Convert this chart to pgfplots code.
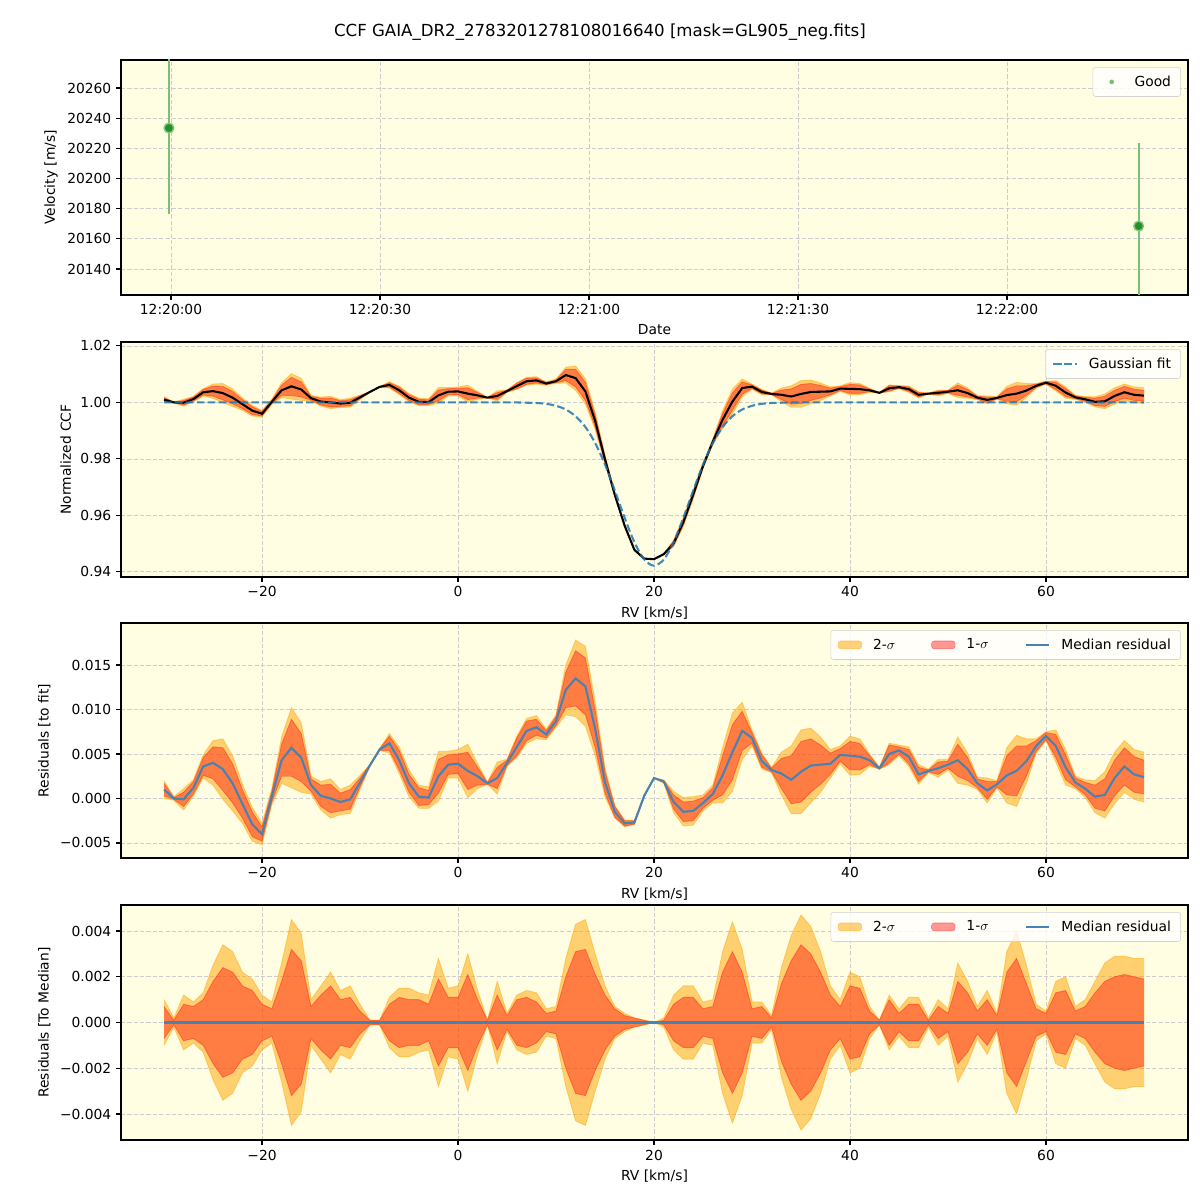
\documentclass[border=0pt]{standalone}
\usepackage{fontspec}
\setmainfont{DejaVu Sans}
\usepackage{pgfplots}
\usepackage{pgfplotstable}
\pgfplotsset{compat=1.18}
\usepgfplotslibrary{fillbetween}

\definecolor{bgcol}{RGB}{255,253,226}
\definecolor{gridcol}{RGB}{205,205,205}
\definecolor{band2}{RGB}{255,165,0}
\definecolor{band1}{RGB}{255,0,0}
\definecolor{medcol}{RGB}{70,130,180}
\definecolor{fitcol}{RGB}{31,119,180}
\definecolor{goodcol}{RGB}{44,160,44}

% rv [km/s], median residual, 1-sigma and 2-sigma half widths, Gaussian fit
\pgfplotstableread{
rv med s1 s2 fit
-30 0.0010 0.0007 0.0010 1.0000
-29 0.0000 0.0001 0.0002 1.0000
-28 -0.0001 0.0008 0.0012 1.0000
-27 0.0012 0.0007 0.0009 1.0000
-26 0.0036 0.0010 0.0013 1.0000
-25 0.0040 0.0018 0.0025 1.0000
-24 0.0033 0.0024 0.0034 1.0000
-23 0.0017 0.0022 0.0031 1.0000
-22 -0.0006 0.0016 0.0022 1.0000
-21 -0.0029 0.0014 0.0019 1.0000
-20 -0.0040 0.0008 0.0012 1.0000
-19 0.0002 0.0006 0.0009 1.0000
-18 0.0043 0.0018 0.0026 1.0000
-17 0.0057 0.0032 0.0045 1.0000
-16 0.0046 0.0027 0.0039 1.0000
-15 0.0015 0.0007 0.0010 1.0000
-14 0.0003 0.0012 0.0016 1.0000
-13 0.0000 0.0016 0.0022 1.0000
-12 -0.0004 0.0010 0.0014 1.0000
-11 -0.0001 0.0011 0.0016 1.0000
-10 0.0018 0.0005 0.0008 1.0000
-9 0.0037 0.0001 0.0001 1.0000
-8 0.0055 0.0001 0.0001 1.0000
-7 0.0062 0.0008 0.0011 1.0000
-6 0.0043 0.0011 0.0015 1.0000
-5 0.0017 0.0010 0.0015 1.0000
-4 0.0002 0.0010 0.0013 1.0000
-3 0.0001 0.0008 0.0012 1.0000
-2 0.0025 0.0019 0.0028 1.0000
-1 0.0038 0.0011 0.0015 1.0000
0 0.0039 0.0011 0.0016 1.0000
1 0.0031 0.0021 0.0030 1.0000
2 0.0025 0.0010 0.0014 1.0000
3 0.0017 0.0001 0.0001 1.0000
4 0.0023 0.0012 0.0018 1.0000
5 0.0040 0.0003 0.0004 1.0000
6 0.0058 0.0010 0.0012 1.0000
7 0.0076 0.0011 0.0014 0.9999
8 0.0080 0.0009 0.0013 0.9998
9 0.0072 0.0004 0.0006 0.9995
10 0.0087 0.0005 0.0007 0.9988
11 0.0122 0.0020 0.0028 0.9975
12 0.0135 0.0031 0.0043 0.9951
13 0.0126 0.0032 0.0045 0.9913
14 0.0078 0.0021 0.0030 0.9856
15 0.0018 0.0012 0.0016 0.9780
16 -0.0015 0.0006 0.0007 0.9688
17 -0.0028 0.0003 0.0004 0.9592
18 -0.0027 0.0002 0.0002 0.9505
19 0.0003 0.0001 0.0001 0.9444
20 0.0023 0.0000 0.0000 0.9422
21 0.0019 0.0001 0.0002 0.9444
22 -0.0004 0.0008 0.0012 0.9505
23 -0.0015 0.0011 0.0016 0.9592
24 -0.0014 0.0011 0.0016 0.9688
25 -0.0005 0.0006 0.0009 0.9780
26 0.0005 0.0007 0.0010 0.9856
27 0.0026 0.0022 0.0031 0.9913
28 0.0052 0.0031 0.0044 0.9951
29 0.0076 0.0022 0.0032 0.9975
30 0.0068 0.0006 0.0009 0.9988
31 0.0042 0.0007 0.0009 0.9995
32 0.0032 0.0002 0.0003 0.9998
33 0.0028 0.0017 0.0024 0.9999
34 0.0021 0.0027 0.0038 1.0000
35 0.0030 0.0034 0.0047 1.0000
36 0.0037 0.0030 0.0042 1.0000
37 0.0038 0.0022 0.0031 1.0000
38 0.0039 0.0012 0.0016 1.0000
39 0.0049 0.0007 0.0010 1.0000
40 0.0048 0.0016 0.0022 1.0000
41 0.0047 0.0015 0.0020 1.0000
42 0.0043 0.0005 0.0007 1.0000
43 0.0034 0.0001 0.0001 1.0000
44 0.0050 0.0010 0.0012 1.0000
45 0.0054 0.0004 0.0006 1.0000
46 0.0047 0.0008 0.0011 1.0000
47 0.0027 0.0008 0.0011 1.0000
48 0.0031 0.0001 0.0002 1.0000
49 0.0034 0.0007 0.0010 1.0000
50 0.0038 0.0004 0.0006 1.0000
51 0.0043 0.0018 0.0026 1.0000
52 0.0033 0.0013 0.0018 1.0000
53 0.0017 0.0005 0.0007 1.0000
54 0.0009 0.0010 0.0014 1.0000
55 0.0016 0.0003 0.0004 1.0000
56 0.0026 0.0022 0.0031 1.0000
57 0.0031 0.0028 0.0040 1.0000
58 0.0042 0.0017 0.0025 1.0000
59 0.0059 0.0006 0.0008 1.0000
60 0.0070 0.0004 0.0005 1.0000
61 0.0059 0.0013 0.0018 1.0000
62 0.0035 0.0014 0.0020 1.0000
63 0.0018 0.0005 0.0007 1.0000
64 0.0011 0.0007 0.0010 1.0000
65 0.0002 0.0013 0.0018 1.0000
66 0.0004 0.0018 0.0026 1.0000
67 0.0023 0.0020 0.0029 1.0000
68 0.0036 0.0021 0.0029 1.0000
69 0.0027 0.0020 0.0028 1.0000
70 0.0024 0.0019 0.0028 1.0000
}\ccf

\pgfplotsset{
  panel/.style={
    scale only axis, width=10.67in, height=2.35in, anchor=south west,
    axis background/.style={fill=bgcol},
    scaled x ticks=false, scaled y ticks=false,
    grid=major, grid style={dash pattern=on 3pt off 1.6pt, gridcol, line width=0.6pt},
    tick align=outside, major tick length=3.5pt,
    xtick pos=bottom, ytick pos=left,
    every tick/.style={black, line width=0.8pt},
    axis line style={line width=0.8pt},
    tick label style={font=\fontsize{10}{12}\selectfont},
    label style={font=\fontsize{10}{12}\selectfont},
    legend style={font=\fontsize{10}{12}\selectfont, draw=gray!35, rounded corners=2pt,
      fill=white, fill opacity=0.8, text opacity=1, at={(0.9934,0.97)}, anchor=north east,
      inner xsep=5pt, inner ysep=4pt,
      /tikz/every odd column/.append style={column sep=6pt},
      /tikz/every even column/.append style={column sep=24pt}},
    legend cell align=left,
  },
  rvpanel/.style={panel, xmin=-34.39, xmax=74.49, xtick={-20,0,20,40,60},
    xticklabels={−20,0,20,40,60}, xlabel={RV [km/s]}},
  sig2/.style={fill=band2, fill opacity=0.5, draw=none, forget plot},
  sig1/.style={fill=band1, fill opacity=0.4, draw=none, forget plot},
  edge2/.style={band2, draw opacity=0.45, line width=0.6pt, forget plot},
  edge1/.style={band1, draw opacity=0.35, line width=0.6pt, forget plot},
}

\begin{document}
\begin{tikzpicture}
\path (0,0) rectangle (12in,12in);
\node[font=\fontsize{12}{14}\selectfont] at (6in,11.68in)
  {CCF GAIA\_DR2\_2783201278108016640 [mask=GL905\_neg.fits]};

% panel 1: velocity vs time (seconds after 12:20:00)
\begin{axis}[panel, at={(1.21in,9.05in)},
  xmin=-7.18, xmax=145.98, ymin=20122.8, ymax=20278.6,
  xtick={0,30,60,90,120},
  xticklabels={12:20:00,12:20:30,12:21:00,12:21:30,12:22:00},
  ytick={20140,20160,20180,20200,20220,20240,20260},
  yticklabels={20140,20160,20180,20200,20220,20240,20260},
  xlabel={Date}, ylabel={Velocity [m/s]}]
\addlegendimage{legend image code/.code={
  \path[draw=none, fill=none] (0cm,0cm) -- (0.6cm,0cm);
  \path[draw=none, fill=goodcol, fill opacity=0.65] (0.3cm,0cm) circle (1.7pt);}}
\addlegendentry{Good}
\addplot[forget plot, only marks, mark=*, mark size=3.5pt,
  mark options={fill=goodcol!90!black, draw=goodcol!60, line width=1pt},
  error bars/.cd, y dir=both, y explicit, error mark=none,
  error bar style={goodcol!65, line width=1.5pt}]
  coordinates {(-0.3,20233.5) +- (0,57) (138.9,20168.5) +- (0,55)};
\end{axis}

% panel 2: normalized CCF
\begin{axis}[rvpanel, at={(1.21in,6.23in)},
  ymin=0.9382, ymax=1.0214,
  ytick={0.94,0.96,0.98,1.00,1.02}, yticklabels={0.94,0.96,0.98,1.00,1.02},
  ylabel={Normalized CCF}]
\addplot[name path=a2, edge2] table[x=rv, y expr=\thisrow{fit}+\thisrow{med}+\thisrow{s2}]{\ccf};
\addplot[name path=b2, edge2] table[x=rv, y expr=\thisrow{fit}+\thisrow{med}-\thisrow{s2}]{\ccf};
\addplot[sig2] fill between[of=a2 and b2];
\addplot[name path=a1, edge1] table[x=rv, y expr=\thisrow{fit}+\thisrow{med}+\thisrow{s1}]{\ccf};
\addplot[name path=b1, edge1] table[x=rv, y expr=\thisrow{fit}+\thisrow{med}-\thisrow{s1}]{\ccf};
\addplot[sig1] fill between[of=a1 and b1];
\addplot[black, line width=1.5pt, forget plot] table[x=rv, y expr=\thisrow{fit}+\thisrow{med}]{\ccf};
\addplot[fitcol, opacity=0.85, dash pattern=on 5.5pt off 2.4pt, line width=1.5pt, smooth] table[x=rv, y=fit]{\ccf};
\addlegendentry{Gaussian fit}
\end{axis}

% panel 3: residuals to fit
\begin{axis}[rvpanel, at={(1.21in,3.42in)},
  ymin=-0.00669, ymax=0.01972,
  ytick={-0.005,0,0.005,0.010,0.015},
  yticklabels={−0.005,0.000,0.005,0.010,0.015},
  ylabel={Residuals [to fit]}, legend columns=3]
\addlegendimage{area legend, fill=band2, fill opacity=0.5, draw=band2, draw opacity=0.5}
\addlegendentry{2-$\sigma$}
\addlegendimage{area legend, fill=band1, fill opacity=0.4, draw=band1, draw opacity=0.4}
\addlegendentry{1-$\sigma$}
\addlegendimage{medcol, line width=1.5pt}
\addlegendentry{Median residual}
\addplot[name path=c2, edge2] table[x=rv, y expr=\thisrow{med}+\thisrow{s2}]{\ccf};
\addplot[name path=d2, edge2] table[x=rv, y expr=\thisrow{med}-\thisrow{s2}]{\ccf};
\addplot[sig2] fill between[of=c2 and d2];
\addplot[name path=c1, edge1] table[x=rv, y expr=\thisrow{med}+\thisrow{s1}]{\ccf};
\addplot[name path=d1, edge1] table[x=rv, y expr=\thisrow{med}-\thisrow{s1}]{\ccf};
\addplot[sig1] fill between[of=c1 and d1];
\addplot[medcol, line width=1.5pt, forget plot] table[x=rv, y=med]{\ccf};
\end{axis}

% panel 4: residuals to median
\begin{axis}[rvpanel, at={(1.21in,0.60in)},
  ymin=-0.005137, ymax=0.005137,
  ytick={-0.004,-0.002,0,0.002,0.004},
  yticklabels={−0.004,−0.002,0.000,0.002,0.004},
  ylabel={Residuals [To Median]}, legend columns=3]
\addlegendimage{area legend, fill=band2, fill opacity=0.5, draw=band2, draw opacity=0.5}
\addlegendentry{2-$\sigma$}
\addlegendimage{area legend, fill=band1, fill opacity=0.4, draw=band1, draw opacity=0.4}
\addlegendentry{1-$\sigma$}
\addlegendimage{medcol, line width=1.5pt}
\addlegendentry{Median residual}
\addplot[name path=e2, edge2] table[x=rv, y=s2]{\ccf};
\addplot[name path=f2, edge2] table[x=rv, y expr=-\thisrow{s2}]{\ccf};
\addplot[sig2] fill between[of=e2 and f2];
\addplot[name path=e1, edge1] table[x=rv, y=s1]{\ccf};
\addplot[name path=f1, edge1] table[x=rv, y expr=-\thisrow{s1}]{\ccf};
\addplot[sig1] fill between[of=e1 and f1];
\addplot[medcol, line width=1.5pt, forget plot] coordinates {(-30,0) (70,0)};
\end{axis}
\end{tikzpicture}
\end{document}
